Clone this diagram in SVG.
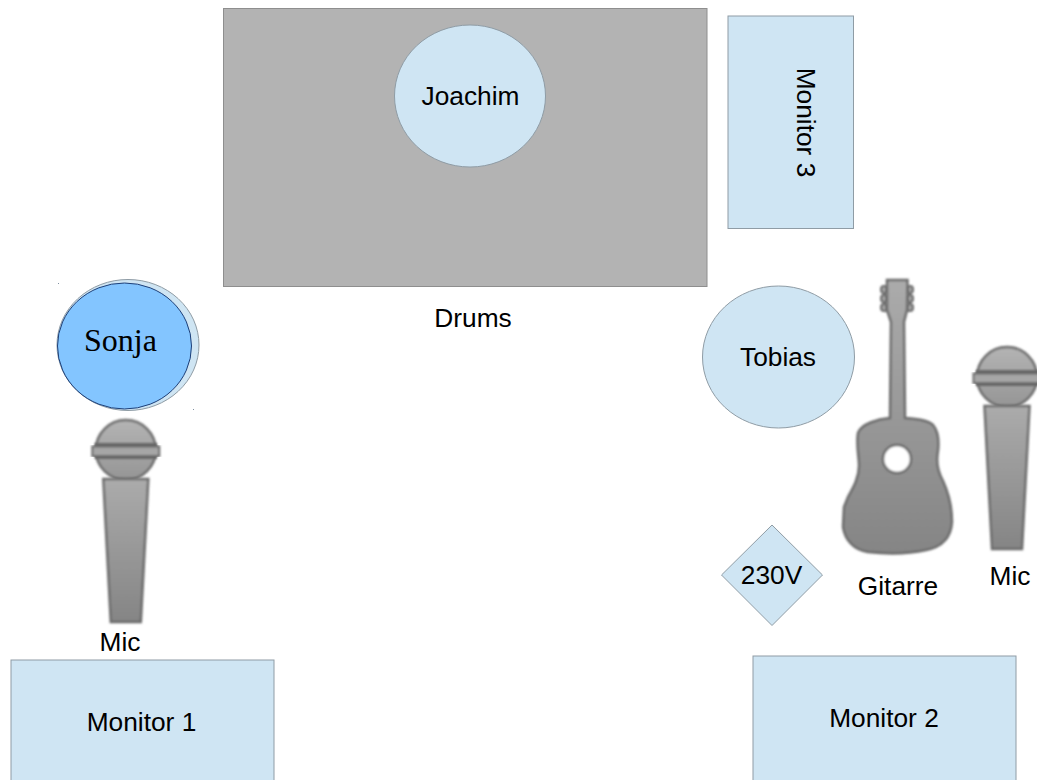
<svg xmlns="http://www.w3.org/2000/svg" width="1037" height="780" viewBox="0 0 1037 780">
<style>
.n{fill:#cfe5f3;stroke:#8f9ca5;stroke-width:1}
.t{font-family:"Liberation Sans",Arial,sans-serif;font-size:26.300px;fill:#000;text-anchor:middle}
.g{fill:url(#metal);stroke:#6a6a6a;stroke-width:2.500;filter:url(#soft)}
.h{fill:url(#head);stroke:#6a6a6a;stroke-width:2.500;filter:url(#soft)}
</style>
<defs>
<linearGradient id="metal" x1="0" y1="0" x2="0" y2="1"><stop offset="0" stop-color="#ababab"/><stop offset="1" stop-color="#858585"/></linearGradient>
<linearGradient id="head" x1="0" y1="0" x2="0" y2="1"><stop offset="0" stop-color="#b4b4b4"/><stop offset="1" stop-color="#959595"/></linearGradient>
<filter id="soft" x="-10%" y="-10%" width="120%" height="120%"><feGaussianBlur stdDeviation="0.800"/></filter>
<g id="micshape">
<circle class="h" cx="0" cy="-1" r="30"/>
<rect x="-31" y="-8" width="62" height="16" fill="#666" filter="url(#soft)"/>
<rect x="-33.500" y="-4.500" width="67" height="9.500" fill="#a6a6a6" stroke="#6a6a6a" stroke-width="2" filter="url(#soft)"/>
<path class="g" d="M-22.500 28H22.500L15 171H-15Z"/>
</g>
</defs>
<rect width="1037" height="780" fill="#fff"/>
<g id="drums"><rect x="223.500" y="8.500" width="483.500" height="278" fill="#b3b3b3" stroke="#8e8e8e"/><text class="t" x="473" y="327">Drums</text></g>
<g id="joachim"><ellipse class="n" cx="470" cy="96" rx="75.500" ry="71"/><text class="t" x="470.500" y="105">Joachim</text></g>
<g id="monitor3"><rect class="n" x="728" y="16" width="125.500" height="212.500"/><text class="t" transform="translate(796.500 122.500) rotate(90)">Monitor 3</text></g>
<g id="sonja">
<ellipse class="n" cx="128" cy="345" rx="71" ry="65.500"/>
<ellipse cx="124.500" cy="346" rx="67" ry="63" fill="#83c5ff" stroke="#1d3f78"/>
<text x="120.500" y="351" font-family="'Liberation Serif',serif" font-size="32" text-anchor="middle">Sonja</text>
<rect x="58" y="283" width="1" height="1" fill="#8090a0"/><rect x="193" y="409" width="1" height="1" fill="#8090a0"/>
</g>
<g id="tobias"><ellipse class="n" cx="778.500" cy="357" rx="76" ry="71"/><text class="t" x="778" y="366">Tobias</text></g>
<g id="mic-left"><use href="#micshape" transform="translate(125.800 451)"/><text class="t" x="120" y="651">Mic</text></g>
<g id="mic-right"><use href="#micshape" transform="translate(1007 378)"/><text class="t" x="1010" y="585">Mic</text></g>
<g id="gitarre">
<g fill="#a0a0a0" stroke="#6a6a6a" stroke-width="2" filter="url(#soft)">
<rect x="881" y="286" width="7" height="7" rx="3"/><rect x="881" y="295" width="7" height="7" rx="3"/><rect x="881" y="304" width="7" height="7" rx="3"/>
<rect x="906" y="286" width="7" height="7" rx="3"/><rect x="906" y="295" width="7" height="7" rx="3"/><rect x="906" y="304" width="7" height="7" rx="3"/>
</g>
<path class="g" d="M887 280H907.500L907 310L904 322L905 418C916 419 928 420 933 425C938 431 939 442 938 451C936 461 938 472 943 481C948 492 952 507 952 522C951 537 942 547 926 550C908 554 886 554 868 552C854 550 845 540 843 527L844 507L848 497C853 488 859 478 859 466C859 456 856 445 858 433C861 424 878 419 890 418L891 322L887 310Z"/>
<circle cx="897" cy="459" r="14" fill="#fff" stroke="#6a6a6a" stroke-width="2.500" filter="url(#soft)"/>
<text class="t" x="898" y="595">Gitarre</text>
</g>
<g id="power"><path class="n" d="M772 525L822.500 575L772 625.500L721.500 575Z"/><text class="t" x="771.500" y="584">230V</text></g>
<g id="monitor1"><rect class="n" x="11" y="660" width="263" height="130"/><text class="t" x="141.500" y="731">Monitor 1</text></g>
<g id="monitor2"><rect class="n" x="753" y="656" width="263" height="134"/><text class="t" x="884" y="727">Monitor 2</text></g>
<g id="connectors"/>
</svg>
